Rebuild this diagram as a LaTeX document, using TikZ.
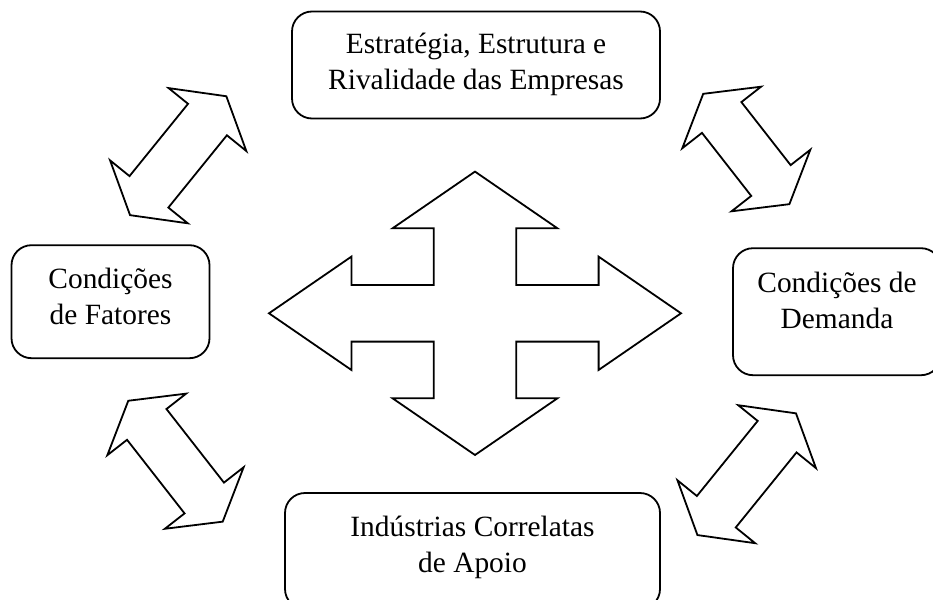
\documentclass[tikz,border=0pt]{standalone}
\usepackage{fontspec}
\setmainfont{Liberation Serif}

\tikzset{
	factor/.style={draw, rounded corners=20, line width=1.8, inner sep=0pt},
	every label/.style={font=\fontsize{29.4}{36}\selectfont, align=center, inner sep=0pt},
	block/.style={draw, line width=1.8, line join=miter}
}

\begin{document}
\begin{tikzpicture}[x=1pt,y=-1pt]
	\newcommand\DArrow[1]{(#1,0) -- ({#1-30},50) -- ({#1-30},25) -- ({30-#1},25) -- ({30-#1},50) -- (-#1,0) -- ({30-#1},-50) -- ({30-#1},-25) -- ({#1-30},-25) -- ({#1-30},-50) -- cycle}

	\useasboundingbox (0,0) rectangle (933,599);
	\clip (0,0) rectangle (933,599);

	% the four determinants
	\node[factor, minimum width=368, minimum height=107,
		label={[yshift=1]center:{Estratégia, Estrutura e\\Rivalidade das Empresas}}] (strategy) at (476,65) {};
	\node[factor, minimum width=198, minimum height=113,
		label={[yshift=5]center:Condições\\de Fatores}] (factors) at (110.5,301.7) {};
	\node[factor, minimum width=208, minimum height=127,
		label={[yshift=11]center:Condições de\\Demanda}] (demand) at (837,311.7) {};
	\node[factor, minimum width=375, minimum height=116,
		label={[yshift=4]center:Indústrias Correlatas\\de Apoio}] (related) at (472.5,551) {};

	% central cross
	\begin{scope}[shift={(475,313.3)}, xscale=206, yscale=141.7]
		\draw[block] (1,0) -- (0.6,0.4) -- (0.6,0.2) -- (0.2,0.2) -- (0.2,0.6) -- (0.4,0.6) -- (0,1)
			-- (-0.4,0.6) -- (-0.2,0.6) -- (-0.2,0.2) -- (-0.6,0.2) -- (-0.6,0.4) -- (-1,0)
			-- (-0.6,-0.4) -- (-0.6,-0.2) -- (-0.2,-0.2) -- (-0.2,-0.6) -- (-0.4,-0.6) -- (0,-1)
			-- (0.4,-0.6) -- (0.2,-0.6) -- (0.2,-0.2) -- (0.6,-0.2) -- (0.6,-0.4) -- cycle;
	\end{scope}

	% double arrows between the boxes
	\draw[block, shift={(178.2,155.7)}, rotate=51] \DArrow{76.5};
	\draw[block, shift={(746.3,149)}, rotate=-52] \DArrow{70};
	\draw[block, shift={(175.5,461.2)}, rotate=-52] \DArrow{76.7};
	\draw[block, shift={(746.7,474.2)}, rotate=51] \DArrow{78.3};
\end{tikzpicture}
\end{document}
